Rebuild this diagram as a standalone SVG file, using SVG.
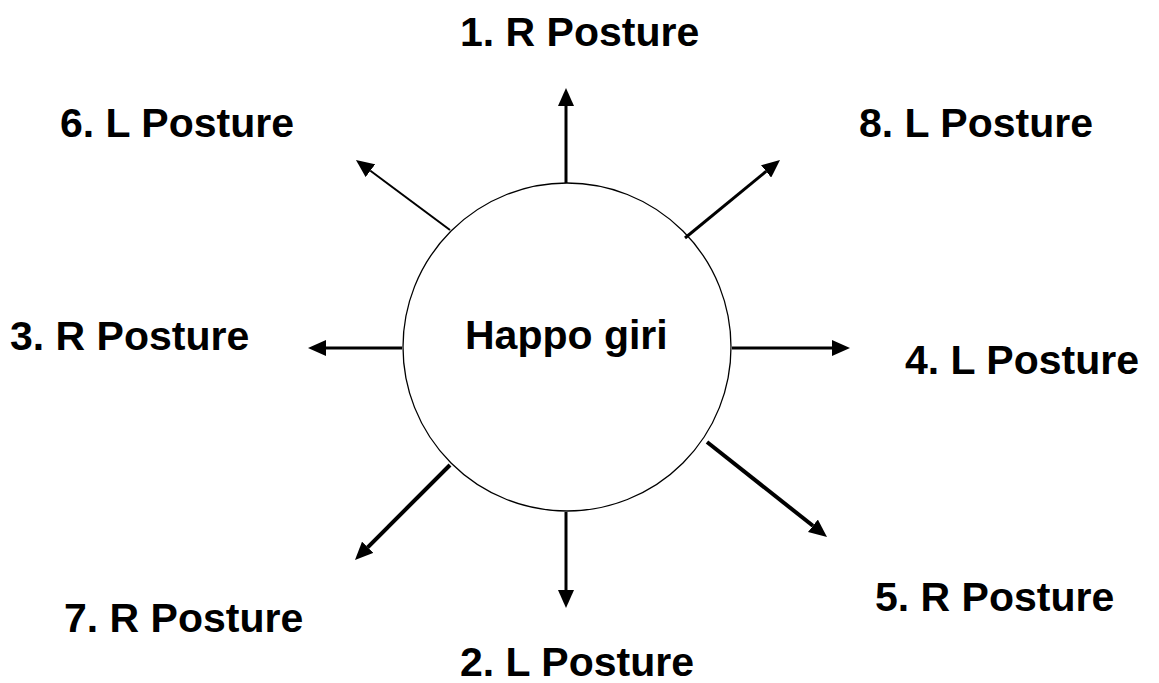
<svg xmlns="http://www.w3.org/2000/svg" width="1159" height="683" viewBox="0 0 1159 683">
  <style>
    .lbl { font-family: "Liberation Sans", Arial, sans-serif; font-weight: bold; font-size: 41px; fill: #000; }
    .arr { stroke: #000; fill: none; marker-end: url(#head); }
  </style>
  <defs>
    <marker id="head" markerUnits="userSpaceOnUse" markerWidth="18" markerHeight="16" refX="0" refY="8" orient="auto">
      <path d="M0,0 L18,8 L0,16 z" fill="#000"/>
    </marker>
  </defs>
  <rect width="1159" height="683" fill="#fff"/>

  <g id="center">
    <circle cx="567" cy="347" r="164" fill="#fff" stroke="#000" stroke-width="1.3"/>
    <text class="lbl" x="465" y="349">Happo giri</text>
  </g>

  <g id="connectors">
    <line class="arr" x1="566" y1="183" x2="566" y2="106" stroke-width="3"/>
    <line class="arr" x1="450" y1="230" x2="370.4" y2="170.7" stroke-width="2"/>
    <line class="arr" x1="685" y1="238" x2="766.1" y2="171.4" stroke-width="3"/>
    <line class="arr" x1="402" y1="348" x2="326" y2="348" stroke-width="3"/>
    <line class="arr" x1="732" y1="348" x2="832" y2="348" stroke-width="3"/>
    <line class="arr" x1="450" y1="465" x2="367.7" y2="547.3" stroke-width="4"/>
    <line class="arr" x1="707" y1="442" x2="812.9" y2="525.8" stroke-width="4"/>
    <line class="arr" x1="566" y1="512" x2="566" y2="590" stroke-width="3"/>
  </g>

  <g id="step1"><text class="lbl" x="460" y="46">1. R Posture</text></g>
  <g id="step2"><text class="lbl" x="460" y="676">2. L Posture</text></g>
  <g id="step3"><text class="lbl" x="10" y="350">3. R Posture</text></g>
  <g id="step4"><text class="lbl" x="905" y="374">4. L Posture</text></g>
  <g id="step5"><text class="lbl" x="875" y="611">5. R Posture</text></g>
  <g id="step6"><text class="lbl" x="60" y="137">6. L Posture</text></g>
  <g id="step7"><text class="lbl" x="64" y="632">7. R Posture</text></g>
  <g id="step8"><text class="lbl" x="859" y="137">8. L Posture</text></g>
</svg>
